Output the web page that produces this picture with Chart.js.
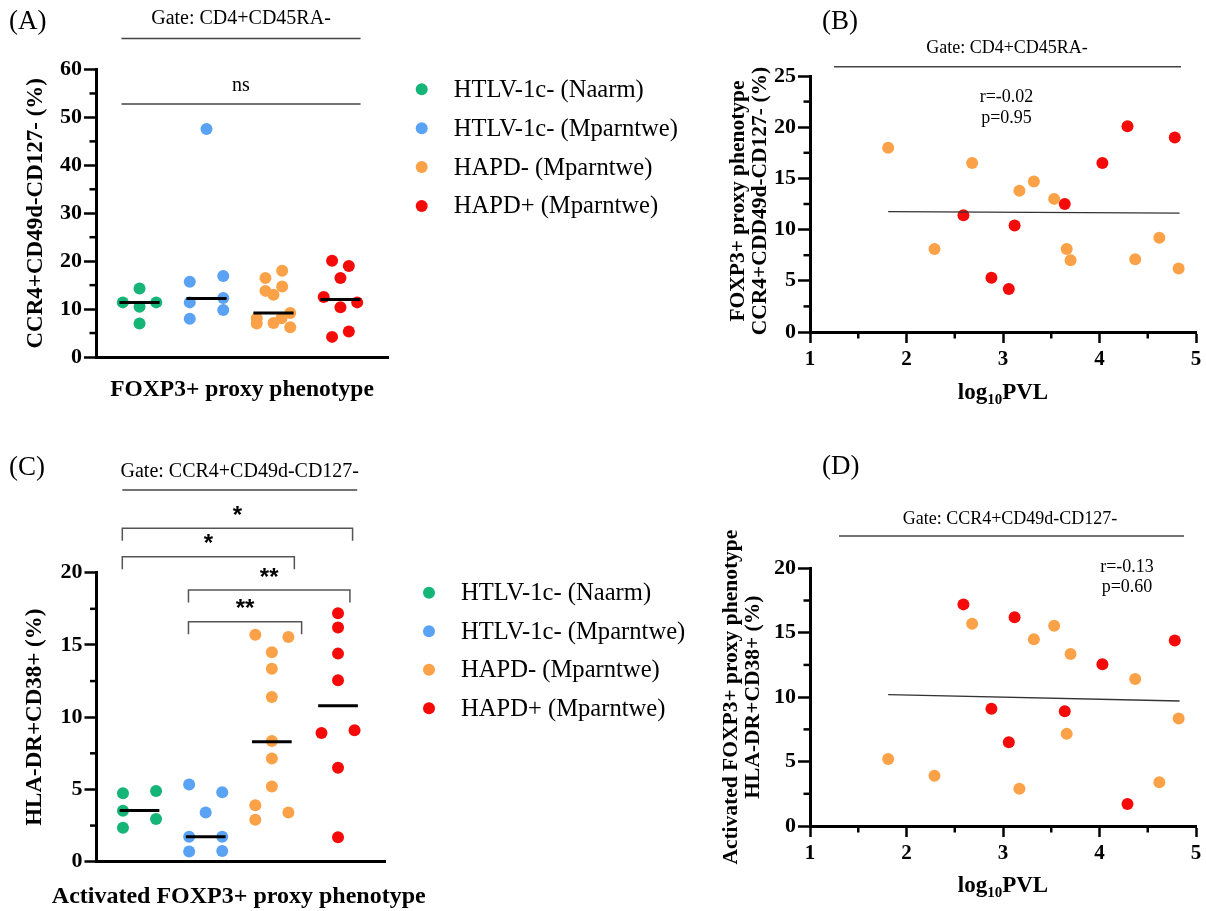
<!DOCTYPE html>
<html><head><meta charset="utf-8">
<script src="https://cdn.jsdelivr.net/npm/chart.js@4.4.1/dist/chart.umd.min.js"></script>
<style>
html,body{margin:0;padding:0;background:#fff;}
#wrap{position:relative;width:1206px;height:911px;overflow:hidden;background:#fff;}
canvas{position:absolute;}
</style></head><body>
<div id="wrap">
<canvas id="cA" width="700" height="440" style="left:0;top:0"></canvas>
<canvas id="cB" width="506" height="440" style="left:700px;top:0"></canvas>
<canvas id="cC" width="700" height="461" style="left:0;top:450px"></canvas>
<canvas id="cD" width="506" height="461" style="left:700px;top:450px"></canvas>
</div>
<script>
// ---------------- data ----------------
const groups = ['HTLV-1c- (Naarm)', 'HTLV-1c- (Mparntwe)', 'HAPD- (Mparntwe)', 'HAPD+ (Mparntwe)'];
const groupColors = ['#14b576', '#5aa2f4', '#fba248', '#f50a0a'];

// (A) FOXP3+ proxy phenotype, % of CD4+CD45RA-
const foxpNaarm    = [11.4, 14.3, 10.5, 11.4, 7.0];
const foxpMparntwe = [15.7, 16.9, 11.4, 12.3, 9.8, 8.0, 47.6];
const foxpHAPDneg  = [18.0, 8.1, 16.5, 13.8, 14.7, 13.0, 8.1, 7.0, 7.1, 9.2, 6.2];   // ordered as pvlHAPDneg
const foxpHAPDpos  = [11.4, 5.3, 4.2, 10.4, 12.5, 16.5, 20.1, 19.0];              // ordered as pvlHAPDpos
const foxpMedians  = [11.4, 12.2, 9.2, 12.0];

// (C) Activated FOXP3+ proxy phenotype, HLA-DR+CD38+ %
const actNaarm    = [4.73, 4.9, 3.53, 2.95, 2.35];
const actMparntwe = [5.35, 4.8, 3.4, 1.73, 1.73, 0.7, 0.74];
const actHAPDneg  = [5.2, 3.9, 15.7, 2.9, 14.5, 15.55, 7.15, 13.35, 11.4, 3.4, 8.35];
const actHAPDpos  = [17.2, 9.1, 6.5, 16.2, 8.9, 12.55, 1.7, 14.4];
const actMedians  = [3.55, 1.73, 8.3, 10.8];

// log10 PVL of the HAPD- and HAPD+ participants
const pvlHAPDneg = [1.81, 2.29, 2.68, 3.17, 3.32, 3.53, 3.66, 3.70, 4.37, 4.62, 4.82];
const pvlHAPDpos = [2.59, 2.88, 3.06, 3.12, 3.64, 4.03, 4.29, 4.78];

// regression lines (end points)
const fitX = [1.81, 4.83];
const fitB = [11.75, 11.6];
const fitD = [10.2, 9.7];
const statsB = ['r=-0.02', 'p=0.95'];
const statsD = ['r=-0.13', 'p=0.60'];

// significance comparisons in (C)
const sigFrom   = [0, 0, 1, 1];
const sigTo     = [3, 2, 3, 2];
const sigLabels = ['*', '*', '**', '**'];

// tick labels
const ticksA = [0, 10, 20, 30, 40, 50, 60];
const ticksB = [0, 5, 10, 15, 20, 25];
const ticksCD = [0, 5, 10, 15, 20];
const ticksPVL = [1, 2, 3, 4, 5];

// horizontal spread of dots inside each category (beeswarm offsets)
const jitA = [[-0.25,0,0,0.25,0], [-0.25,0.25,-0.25,0.25,0.25,-0.25,0],
  [0.13,-0.25,-0.12,-0.12,0.13,0,0.12,-0.25,0,0.25,0.25], [0.25,0.125,-0.125,0,-0.25,0,-0.125,0.125]];
const jitC = [[-0.25,0.25,-0.25,0.25,-0.25], [-0.25,0.25,0,-0.25,0.25,-0.25,0.25],
  [0,-0.25,-0.25,-0.25,0,0.25,0,0,0,0.25,0], [0,0.25,0,0,-0.25,0,0,0]];

// ---------------- helpers ----------------
const SERIF = '"Liberation Serif", "Times New Roman", serif';
const SANS = '"Liberation Sans", Arial, sans-serif';
Chart.defaults.font.family = SERIF;
Chart.defaults.color = '#000';

function txt(ctx, s, x, y, size, o = {}) {
  ctx.save();
  ctx.font = (o.weight || 'normal') + ' ' + size + 'px ' + (o.family || SERIF);
  ctx.fillStyle = o.color || '#000';
  ctx.textAlign = o.align || 'center';
  ctx.textBaseline = o.baseline || 'middle';
  ctx.translate(x, y);
  if (o.rotate) ctx.rotate(o.rotate);
  ctx.fillText(s, 0, 0);
  ctx.restore();
}
function line(ctx, pts, color, w) {
  ctx.save(); ctx.strokeStyle = color; ctx.lineWidth = w; ctx.beginPath();
  pts.forEach((p, i) => i ? ctx.lineTo(p[0], p[1]) : ctx.moveTo(p[0], p[1]));
  ctx.stroke(); ctx.restore();
}
function drawLegend(ctx, x, y0, gap) {
  groups.forEach((g, i) => {
    const y = y0 + i * gap;
    ctx.save(); ctx.fillStyle = groupColors[i]; ctx.beginPath(); ctx.arc(x, y, 6, 0, 2 * Math.PI); ctx.fill(); ctx.restore();
    txt(ctx, g, x + 32, y + 1, 24.6, {align: 'left'});
  });
}
function drawLog10(ctx, cx, base) {
  const big = 'bold 23px ' + SERIF, small = 'bold 15px ' + SERIF;
  ctx.save(); ctx.fillStyle = '#000'; ctx.textAlign = 'left'; ctx.textBaseline = 'alphabetic';
  ctx.font = big; const w1 = ctx.measureText('log').width, w3 = ctx.measureText('PVL').width;
  ctx.font = small; const w2 = ctx.measureText('10').width;
  let x = cx - (w1 + w2 + w3) / 2;
  ctx.font = big; ctx.fillText('log', x, base); x += w1;
  ctx.font = small; ctx.fillText('10', x, base + 5); x += w2;
  ctx.font = big; ctx.fillText('PVL', x, base);
  ctx.restore();
}
const isMajor = (v, m) => Math.abs(v / m - Math.round(v / m)) < 1e-6;

const minorTicks = {
  id: 'minorTicks',
  afterDraw(chart, args, opts) {
    const ctx = chart.ctx, ca = chart.chartArea;
    ctx.save(); ctx.strokeStyle = '#000'; ctx.lineWidth = 2.5;
    ['x', 'y'].forEach(id => {
      const major = opts[id + 'Major'];
      if (!major) return;
      const sc = chart.scales[id];
      sc.ticks.forEach(t => {
        if (isMajor(t.value, major)) return;
        const p = sc.getPixelForValue(t.value);
        ctx.beginPath();
        if (id === 'y') { ctx.moveTo(ca.left, p); ctx.lineTo(ca.left - 6.5, p); }
        else { ctx.moveTo(p, ca.bottom); ctx.lineTo(p, ca.bottom + 6.5); }
        ctx.stroke();
      });
    });
    ctx.restore();
  }
};
Chart.register(minorTicks);

function yAxis(min, max, step, labels, width) {
  return {
    type: 'linear', position: 'left', min, max,
    afterFit: s => { s.width = width; },
    ticks: { stepSize: step, autoSkip: false, padding: 2, color: '#000',
      font: {family: SERIF, size: 22, weight: 'bold'},
      callback: v => labels.includes(v) ? String(v) : '' },
    grid: { display: true, drawOnChartArea: false, drawTicks: true, tickLength: 12, tickWidth: 2.5,
      tickColor: c => (c.tick && labels.includes(c.tick.value)) ? '#000' : 'rgba(0,0,0,0)' },
    border: { display: true, color: '#000', width: 3 }
  };
}
function xCat(height) {
  return { type: 'linear', position: 'bottom', min: -0.65, max: 3.71,
    afterFit: s => { s.height = height; },
    ticks: { display: false }, grid: { display: false },
    border: { display: true, color: '#000', width: 3 } };
}
function xPVL(height) {
  return { type: 'linear', position: 'bottom', min: 1, max: 5,
    afterFit: s => { s.height = height; },
    ticks: { stepSize: 0.5, autoSkip: false, padding: 4, color: '#000', maxRotation: 0,
      font: {family: SERIF, size: 21, weight: 'bold'},
      callback: v => ticksPVL.includes(v) ? String(v) : '' },
    grid: { display: true, drawOnChartArea: false, drawTicks: true, tickLength: 11, tickWidth: 2.5,
      tickColor: c => (c.tick && ticksPVL.includes(c.tick.value)) ? '#000' : 'rgba(0,0,0,0)' },
    border: { display: true, color: '#000', width: 3 } };
}
const catPoints = (vals, jit, g) => vals.map((v, i) => ({x: g + jit[i], y: v}));
function groupDatasets(groupsVals, medians, jit) {
  const ds = [];
  medians.forEach((m, g) => ds.push({ data: [{x: g - 0.3, y: m}, {x: g + 0.3, y: m}], showLine: true,
    borderColor: '#000', borderWidth: 3, pointRadius: 0, order: 0, clip: false }));
  groupsVals.forEach((vals, g) => ds.push({ label: groups[g], data: catPoints(vals, jit[g], g),
    backgroundColor: groupColors[g], borderColor: groupColors[g], borderWidth: 0, pointRadius: 6,
    order: 1, clip: false }));
  return ds;
}
function pvlDatasets(negVals, posVals, fit) {
  return [
    { data: [{x: fitX[0], y: fit[0]}, {x: fitX[1], y: fit[1]}], showLine: true, borderColor: '#333',
      borderWidth: 1.3, pointRadius: 0, order: 0, clip: false },
    { label: groups[2], data: pvlHAPDneg.map((x, i) => ({x, y: negVals[i]})), backgroundColor: groupColors[2],
      borderWidth: 0, pointRadius: 6, order: 1, clip: false },
    { label: groups[3], data: pvlHAPDpos.map((x, i) => ({x, y: posVals[i]})), backgroundColor: groupColors[3],
      borderWidth: 0, pointRadius: 6, order: 1, clip: false }
  ];
}
const baseOpts = (padding, minor) => ({
  responsive: false, animation: false, devicePixelRatio: 1,
  layout: { padding },
  plugins: { legend: { display: false }, tooltip: { enabled: false }, minorTicks: minor }
});

// ---------------- (A) ----------------
new Chart(document.getElementById('cA'), {
  type: 'scatter',
  data: { datasets: groupDatasets([foxpNaarm, foxpMparntwe, foxpHAPDneg, foxpHAPDpos], foxpMedians, jitA) },
  options: Object.assign(baseOpts({left: 0, top: 69.5, right: 312, bottom: 0}, {yMajor: 10}), {
    scales: { x: xCat(83), y: yAxis(0, 60, 5, ticksA, 96) }
  }),
  plugins: [{ id: 'annA', afterDraw(chart) {
    const ctx = chart.ctx, ca = chart.chartArea, xs = chart.scales.x, ys = chart.scales.y;
    txt(ctx, '(A)', 9, 22, 27, {align: 'left'});
    const xl = xs.getPixelForValue(-0.27), xr = xs.getPixelForValue(3.3);
    txt(ctx, 'Gate: CD4+CD45RA-', (xl + xr) / 2, 19, 20);
    line(ctx, [[xl, 38.5], [xr, 38.5]], '#444', 1.5);
    const ny = ys.getPixelForValue(52.8);
    line(ctx, [[xl, ny], [xr, ny]], '#444', 1.5);
    txt(ctx, 'ns', (xl + xr) / 2, ny - 18, 20);
    txt(ctx, 'CCR4+CD49d-CD127- (%)', 36, (ca.top + ca.bottom) / 2, 23, {weight: 'bold', rotate: -Math.PI / 2});
    txt(ctx, 'FOXP3+ proxy phenotype', (ca.left + ca.right) / 2, 390, 23.5, {weight: 'bold'});
    drawLegend(ctx, 421.7, 89.3, 38.9);
  }}]
});

// ---------------- (B) ----------------
new Chart(document.getElementById('cB'), {
  type: 'scatter',
  data: { datasets: pvlDatasets(foxpHAPDneg, foxpHAPDpos, fitB) },
  options: Object.assign(baseOpts({left: 0, top: 76, right: 10, bottom: 0}, {yMajor: 5, xMajor: 1}), {
    scales: { x: xPVL(108), y: yAxis(0, 25, 2.5, ticksB, 110) }
  }),
  plugins: [{ id: 'annB', afterDraw(chart) {
    const ctx = chart.ctx, ca = chart.chartArea;
    txt(ctx, '(B)', 122, 22, 27, {align: 'left'});
    txt(ctx, 'Gate: CD4+CD45RA-', 307, 48, 18);
    line(ctx, [[134, 66.7], [481, 66.7]], '#444', 1.5);
    txt(ctx, statsB[0], 306.5, 97, 18);
    txt(ctx, statsB[1], 306.5, 118, 18);
    const cy = (ca.top + ca.bottom) / 2 - 3;
    txt(ctx, 'FOXP3+ proxy phenotype', 38, cy, 21.5, {weight: 'bold', rotate: -Math.PI / 2});
    txt(ctx, 'CCR4+CDD49d-CD127- (%)', 60, cy, 21.5, {weight: 'bold', rotate: -Math.PI / 2});
    drawLog10(ctx, (ca.left + ca.right) / 2, 398.5);
  }}]
});

// ---------------- (C) ----------------
new Chart(document.getElementById('cC'), {
  type: 'scatter',
  data: { datasets: groupDatasets([actNaarm, actMparntwe, actHAPDneg, actHAPDpos], actMedians, jitC) },
  options: Object.assign(baseOpts({left: 0, top: 122.7, right: 315, bottom: 0}, {yMajor: 5}), {
    scales: { x: xCat(49.3), y: yAxis(0, 20, 2.5, ticksCD, 96.5) }
  }),
  plugins: [{ id: 'annC', afterDraw(chart) {
    const ctx = chart.ctx, ca = chart.chartArea, xs = chart.scales.x, ys = chart.scales.y;
    txt(ctx, '(C)', 9, 18, 27, {align: 'left'});
    const xl = xs.getPixelForValue(-0.26), xr = xs.getPixelForValue(3.29);
    txt(ctx, 'Gate: CCR4+CD49d-CD127-', (xl + xr) / 2, 21.7, 20);
    line(ctx, [[xl, 40], [xr, 40]], '#444', 1.5);
    // brackets
    const levels = [23.07, 21.1, 18.8, 16.6];
    const leftOff = -0.26, rightOff = [0.22, 0.34, 0.18, 0.45];
    sigFrom.forEach((a, i) => {
      const x1 = xs.getPixelForValue(a + leftOff), x2 = xs.getPixelForValue(sigTo[i] + rightOff[i]);
      const y = ys.getPixelForValue(levels[i]), yd = y + 12.5;
      line(ctx, [[x1, yd], [x1, y], [x2, y], [x2, yd]], '#555', 1.5);
      txt(ctx, sigLabels[i], (x1 + x2) / 2, y - 12, 24, {weight: 'bold', family: SANS});
    });
    txt(ctx, 'HLA-DR+CD38+ (%)', 35, (ca.top + ca.bottom) / 2, 23, {weight: 'bold', rotate: -Math.PI / 2});
    txt(ctx, 'Activated FOXP3+ proxy phenotype', (ca.left + ca.right) / 2 - 2, 446.7, 24, {weight: 'bold'});
    drawLegend(ctx, 429, 142.7, 38.5);
  }}]
});

// ---------------- (D) ----------------
new Chart(document.getElementById('cD'), {
  type: 'scatter',
  data: { datasets: pvlDatasets(actHAPDneg, actHAPDpos, fitD) },
  options: Object.assign(baseOpts({left: 0, top: 118.3, right: 10, bottom: 0}, {yMajor: 5, xMajor: 1}), {
    scales: { x: xPVL(85), y: yAxis(0, 20, 2.5, ticksCD, 110) }
  }),
  plugins: [{ id: 'annD', afterDraw(chart) {
    const ctx = chart.ctx, ca = chart.chartArea;
    txt(ctx, '(D)', 122, 17, 27, {align: 'left'});
    txt(ctx, 'Gate: CCR4+CD49d-CD127-', 310, 69, 18);
    line(ctx, [[139, 86], [484, 86]], '#444', 1.5);
    txt(ctx, statsD[0], 427, 117, 18);
    txt(ctx, statsD[1], 427, 137, 18);
    const cy = (ca.top + ca.bottom) / 2;
    txt(ctx, 'Activated FOXP3+ proxy phenotype', 31, cy, 21.5, {weight: 'bold', rotate: -Math.PI / 2});
    txt(ctx, 'HLA-DR+CD38+ (%)', 53, cy, 21.5, {weight: 'bold', rotate: -Math.PI / 2});
    drawLog10(ctx, (ca.left + ca.right) / 2, 441.7);
  }}]
});
</script>
</body></html>
